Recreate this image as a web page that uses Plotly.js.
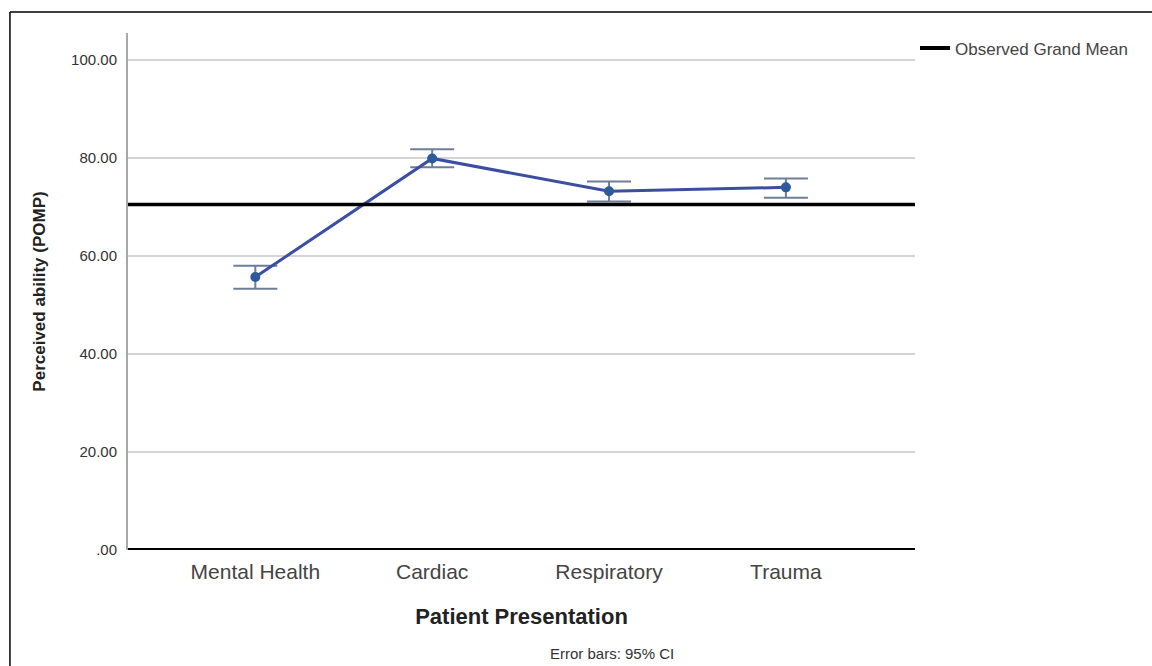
<!DOCTYPE html>
<html>
<head>
<meta charset="utf-8">
<script src="https://cdn.plot.ly/plotly-3.0.1.min.js"></script>
<style>
html,body{margin:0;padding:0;background:#fff;}
#chart{width:1152px;height:666px;}
</style>
</head>
<body>
<div id="chart"></div>
<script>
// Data
const categories = ["Mental Health", "Cardiac", "Respiratory", "Trauma"];
const means = [55.7, 79.9, 73.2, 74.0];
const ciUpper = [58.0, 81.8, 75.2, 75.8];
const ciLower = [53.3, 78.1, 71.1, 71.9];
const grandMean = 70.5;
const yTickVals = [0, 20, 40, 60, 80, 100];
const yTickText = [".00", "20.00", "40.00", "60.00", "80.00", "100.00"];

const plusErr = means.map((m, i) => ciUpper[i] - m);
const minusErr = means.map((m, i) => m - ciLower[i]);

const traces = [
  {
    x: categories,
    y: means,
    type: "scatter",
    mode: "lines+markers",
    showlegend: false,
    line: {color: "#3b4ea3", width: 3},
    marker: {color: "#2d5a9c", size: 10},
    error_y: {
      type: "data",
      symmetric: false,
      array: plusErr,
      arrayminus: minusErr,
      color: "#6e7d98",
      thickness: 2,
      width: 22
    }
  },
  {
    // legend entry for the grand-mean reference line (drawn as a shape)
    x: [null],
    y: [null],
    type: "scatter",
    mode: "lines",
    name: "Observed Grand Mean",
    showlegend: true,
    line: {color: "#000000", width: 4},
    hoverinfo: "skip"
  }
];

const layout = {
  width: 1152,
  height: 666,
  margin: {l: 128, r: 237, t: 33, b: 116},
  paper_bgcolor: "#ffffff",
  plot_bgcolor: "#ffffff",
  font: {family: "Liberation Sans, Arial, sans-serif", color: "#333333"},
  showlegend: true,
  legend: {
    x: 1.0, xanchor: "left", y: 1.005, yanchor: "top",
    font: {size: 17, color: "#444444"},
    bgcolor: "rgba(0,0,0,0)",
    itemclick: false, itemdoubleclick: false,
    itemwidth: 30
  },
  xaxis: {
    type: "category",
    range: [-0.72, 3.73],
    showgrid: false,
    zeroline: false,
    showline: false,
    ticks: "",
    ticklabelstandoff: 7,
    tickfont: {size: 21, color: "#444444"},
    title: {text: "Patient Presentation", font: {size: 22, color: "#222222", weight: "bold"}, standoff: 26},
    automargin: false
  },
  yaxis: {
    range: [0, 105.5],
    tickvals: yTickVals,
    ticktext: yTickText,
    showgrid: true,
    gridcolor: "#d4d4d4",
    gridwidth: 1.5,
    zeroline: false,
    showline: true,
    linecolor: "#a8a8a8",
    linewidth: 2,
    ticks: "",
    ticklabelstandoff: 6,
    tickfont: {size: 15, color: "#333333"},
    title: {text: "Perceived ability (POMP)", font: {size: 17, color: "#222222", weight: "bold"}, standoff: 21},
    automargin: false
  },
  shapes: [
    {type: "line", xref: "paper", yref: "y", x0: 0, x1: 1, y0: grandMean, y1: grandMean,
     line: {color: "#000000", width: 3.5}},
    {type: "line", xref: "paper", yref: "y", x0: 0, x1: 1, y0: 0, y1: 0,
     line: {color: "#000000", width: 4}},
    {type: "line", xref: "paper", yref: "paper", x0: -0.15, x1: 1.31, y0: 1.0406, y1: 1.0406,
     line: {color: "#000000", width: 1.5}},
    {type: "line", xref: "paper", yref: "paper", x0: -0.15, x1: -0.15, y0: 1.0406, y1: -0.23,
     line: {color: "#000000", width: 1.5}}
  ],
  annotations: [
    {text: "Error bars: 95% CI", xref: "paper", yref: "paper", x: 0.615, y: -0.2,
     xanchor: "center", yanchor: "middle", showarrow: false,
     font: {size: 15, color: "#333333"}}
  ]
};

Plotly.newPlot("chart", traces, layout, {displayModeBar: false, staticPlot: true});
</script>
</body>
</html>
